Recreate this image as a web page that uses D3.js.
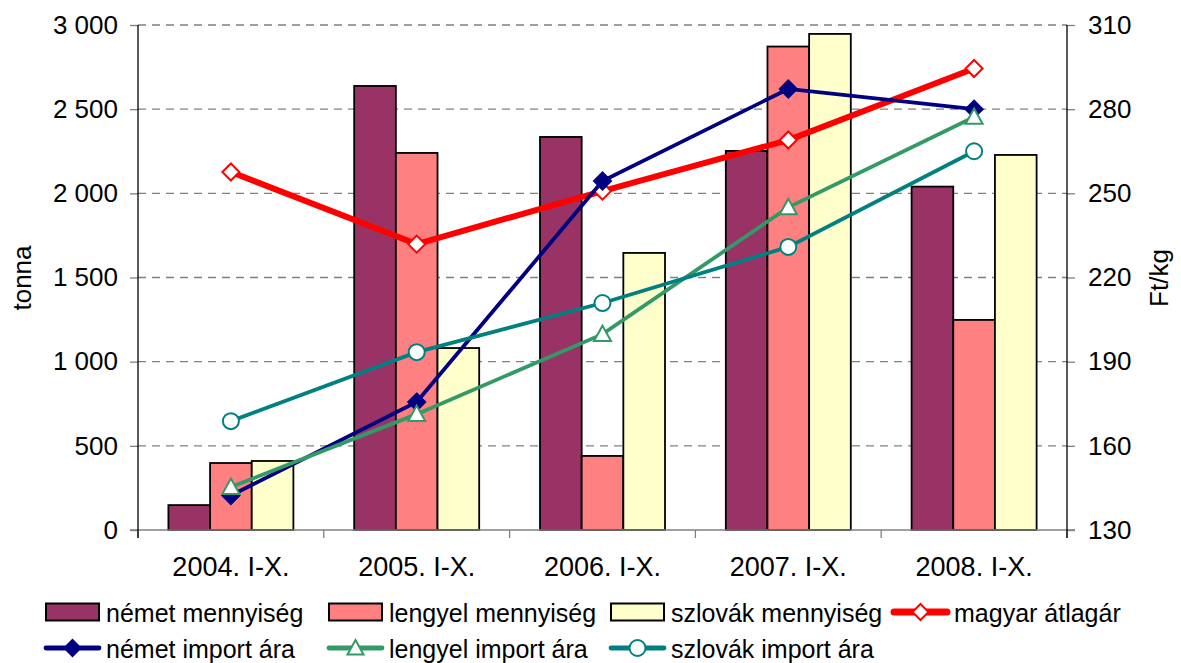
<!DOCTYPE html>
<html>
<head>
<meta charset="utf-8">
<script src="https://cdn.jsdelivr.net/npm/d3@7"></script>
<style>
body { margin: 0; background: #fff; }
text { font-family: "Liberation Sans", Arial, sans-serif; fill: #000; }
</style>
</head>
<body>
<script>
// data
var years = ['2004. I-X.', '2005. I-X.', '2006. I-X.', '2007. I-X.', '2008. I-X.'];
var nemetMenny = [148, 2638, 2335, 2252, 2040];
var lengyelMenny = [398, 2240, 440, 2872, 1248];
var szlovakMenny = [410, 1081, 1646, 2947, 2228];
var magyarAr = [257.6, 231.9, 250.8, 269, 294.5];
var nemetAr = [142.3, 175.6, 254.4, 287.2, 280];
var lengyelAr = [145.3, 171.3, 199.8, 245, 277.2];
var szlovakAr = [168.8, 193.4, 210.9, 230.9, 265];
var leftTicks = [0, 500, 1000, 1500, 2000, 2500, 3000];
var rightTicks = [130, 160, 190, 220, 250, 280, 310];

var W = 1181, H = 663;
var mLeft = 138, mRight = 1067, mTop = 25, mBottom = 530;
var font = '"Liberation Sans", Arial, sans-serif';

var svg = d3.select('body').append('svg')
	.attr('width', W)
	.attr('height', H);

var x = d3.scaleBand().domain(years).range([mLeft, mRight]);
var xBar = d3.scaleBand().domain([0, 1, 2]).range([0, 125]);
var yL = d3.scaleLinear().domain([0, 3000]).range([mBottom, mTop]);
var yR = d3.scaleLinear().domain([130, 310]).range([mBottom, mTop]);

var fmt = function(d) { return d3.format(',')(d).replace(',', ' '); };

// gridlines
svg.append('g')
	.selectAll('line')
	.data(leftTicks.slice(1))
	.enter().append('line')
	.attr('x1', mLeft).attr('x2', mRight)
	.attr('y1', function(d) { return yL(d); })
	.attr('y2', function(d) { return yL(d); })
	.attr('stroke', '#808080')
	.attr('stroke-width', 1.3)
	.attr('stroke-dasharray', '8,6');

// left axis
var axL = svg.append('g')
	.attr('transform', `translate(${mLeft},0)`)
	.call(d3.axisLeft(yL).tickValues(leftTicks).tickSize(8).tickPadding(12).tickFormat(fmt));
axL.select('.domain').remove();
axL.selectAll('line').attr('stroke', '#808080').attr('stroke-width', 1.3);
axL.selectAll('text').style('font-size', '26px').style('font-family', font).attr('fill', '#000');

// right axis
var axR = svg.append('g')
	.attr('transform', `translate(${mRight},0)`)
	.call(d3.axisRight(yR).tickValues(rightTicks).tickSize(8).tickPadding(13));
axR.select('.domain').remove();
axR.selectAll('line').attr('stroke', '#808080').attr('stroke-width', 1.3);
axR.selectAll('text').style('font-size', '26px').style('font-family', font).attr('fill', '#000');

// bars
var barSeries = [
	{ name: 'német mennyiség', values: nemetMenny, color: '#993366' },
	{ name: 'lengyel mennyiség', values: lengyelMenny, color: '#FF8080' },
	{ name: 'szlovák mennyiség', values: szlovakMenny, color: '#FFFFCC' }
];
var off = (x.bandwidth() - 125) / 2;
barSeries.forEach(function(s, si) {
	svg.append('g')
		.selectAll('rect')
		.data(s.values)
		.enter().append('rect')
		.attr('x', function(d, i) { return x(years[i]) + off + xBar(si); })
		.attr('width', xBar.bandwidth())
		.attr('y', function(d) { return yL(d); })
		.attr('height', function(d) { return mBottom - yL(d); })
		.attr('fill', s.color)
		.attr('stroke', '#000')
		.attr('stroke-width', 1.8);
});

// x axis line + ticks
svg.append('line')
	.attr('x1', mLeft - 8).attr('x2', mRight + 8)
	.attr('y1', mBottom).attr('y2', mBottom)
	.attr('stroke', '#808080').attr('stroke-width', 1.3);
var axB = svg.append('g')
	.attr('transform', `translate(0,${mBottom})`)
	.call(d3.axisBottom(x).tickSize(0).tickPadding(27));
axB.select('.domain').remove();
axB.selectAll('text').style('font-size', '27px').style('font-family', font).attr('fill', '#000');
svg.append('g')
	.selectAll('line')
	.data(d3.range(years.length + 1))
	.enter().append('line')
	.attr('x1', function(i) { return mLeft + i * x.step(); })
	.attr('x2', function(i) { return mLeft + i * x.step(); })
	.attr('y1', mBottom).attr('y2', mBottom + 8)
	.attr('stroke', '#808080').attr('stroke-width', 1.3);

// vertical axis lines
svg.append('line').attr('x1', mLeft).attr('x2', mLeft).attr('y1', mTop).attr('y2', mBottom + 8)
	.attr('stroke', '#000').attr('stroke-width', 1.3);
svg.append('line').attr('x1', mRight).attr('x2', mRight).attr('y1', mTop).attr('y2', mBottom + 8)
	.attr('stroke', '#000').attr('stroke-width', 1.3);

// axis titles
svg.append('text')
	.attr('transform', 'translate(31,278) rotate(-90)')
	.attr('text-anchor', 'middle')
	.style('font-size', '26px')
	.text('tonna');
svg.append('text')
	.attr('transform', 'translate(1168,278) rotate(-90)')
	.attr('text-anchor', 'middle')
	.style('font-size', '26px')
	.text('Ft/kg');

// lines
var cx = function(d, i) { return x(years[i]) + x.bandwidth() / 2; };
var lineSeries = [
	{ name: 'magyar átlagár', values: magyarAr, color: '#FF0000', width: 6, marker: 'diamond', fill: '#fff' },
	{ name: 'német import ára', values: nemetAr, color: '#000080', width: 3.8, marker: 'diamond', fill: '#000080' },
	{ name: 'lengyel import ára', values: lengyelAr, color: '#339966', width: 3.8, marker: 'triangle', fill: '#fff' },
	{ name: 'szlovák import ára', values: szlovakAr, color: '#008080', width: 3.8, marker: 'circle', fill: '#fff' }
];
var markerPath = function(type, s) {
	if (type === 'diamond') return `M0,${-s}L${s},0L0,${s}L${-s},0Z`;
	if (type === 'triangle') return `M0,${-s}L${s},${s * 0.8}L${-s},${s * 0.8}Z`;
	return d3.arc()({ innerRadius: 0, outerRadius: s, startAngle: 0, endAngle: 2 * Math.PI });
};
var line = d3.line()
	.x(cx)
	.y(function(d) { return yR(d); });

lineSeries.forEach(function(s) {
	var g = svg.append('g');
	g.append('path')
		.datum(s.values)
		.attr('d', line)
		.attr('fill', 'none')
		.attr('stroke', s.color)
		.attr('stroke-width', s.width);
	g.selectAll('path.m')
		.data(s.values)
		.enter().append('path')
		.attr('class', 'm')
		.attr('transform', function(d, i) { return `translate(${cx(d, i)},${yR(d)})`; })
		.attr('d', markerPath(s.marker, s.marker === 'circle' ? 8 : 8.5))
		.attr('fill', s.fill)
		.attr('stroke', s.color)
		.attr('stroke-width', 2);
});

// legend
var legendItems = [
	{ s: barSeries[0], type: 'bar', x: 45, y: 612 },
	{ s: barSeries[1], type: 'bar', x: 328, y: 612 },
	{ s: barSeries[2], type: 'bar', x: 610, y: 612 },
	{ s: lineSeries[0], type: 'line', x: 893, y: 612 },
	{ s: lineSeries[1], type: 'line', x: 45, y: 648 },
	{ s: lineSeries[2], type: 'line', x: 328, y: 648 },
	{ s: lineSeries[3], type: 'line', x: 610, y: 648 }
];
legendItems.forEach(function(it) {
	var g = svg.append('g').attr('transform', `translate(${it.x},${it.y})`);
	if (it.type === 'bar') {
		g.append('rect')
			.attr('x', 1).attr('y', -8.5)
			.attr('width', 53).attr('height', 17)
			.attr('fill', it.s.color)
			.attr('stroke', '#000').attr('stroke-width', 2);
	} else {
		g.append('line')
			.attr('x1', 1).attr('x2', 54)
			.attr('stroke', it.s.color)
			.attr('stroke-width', it.s.width + 1)
			.attr('stroke-linecap', 'round');
		g.append('path')
			.attr('transform', 'translate(27.5,0)')
			.attr('d', markerPath(it.s.marker, 8))
			.attr('fill', it.s.fill)
			.attr('stroke', it.s.color)
			.attr('stroke-width', 2);
	}
	g.append('text')
		.attr('x', 61)
		.attr('y', 9.5)
		.style('font-size', '25px')
		.text(it.s.name);
});
</script>
</body>
</html>
